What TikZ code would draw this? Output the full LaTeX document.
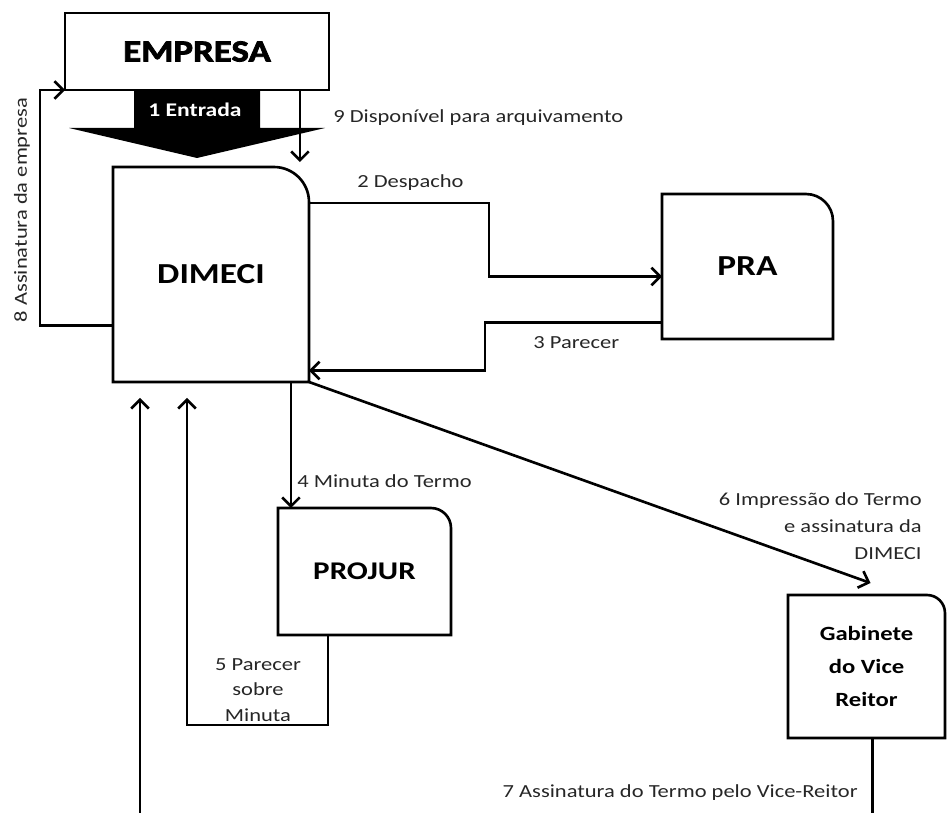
\documentclass[tikz,border=0pt]{standalone}
\usepackage{fontspec}
\setmainfont{Carlito}[FakeStretch=1.22]
\newfontfamily\pesada{Carlito}[FakeStretch=1.2,FakeBold=2.5]
\usetikzlibrary{arrows.meta,positioning,calc}
\tikzset{
  caixa/.style={draw=none,outer sep=0pt,inner sep=0pt,align=center,
                font=\bfseries\fontsize{16.5}{20}\selectfont},
  linha/.style={draw=black,line width=1.5pt},
  flecha/.style={linha,-{Straight Barb[length=5pt,width=10pt]}},
  et/.style={font=\fontsize{10.5}{14.5}\selectfont,inner sep=0pt,text=black!85},
}
% contorno com o canto superior direito arredondado
\newcommand{\contorno}[2]{%
  \draw[linha] (#1.south west) -- (#1.north west) -- ($(#1.north east)+(-#2,0)$)
    arc[start angle=90,end angle=0,radius=#2] -- (#1.south east) -- cycle;}

\begin{document}
\begin{tikzpicture}[x=0.02cm,y=-0.02cm]
\useasboundingbox (0,0) rectangle (947,813);
\clip (0,0) rectangle (947,813);

% ---------------- caixas ----------------
\node[caixa,draw,linha,minimum width=5.28cm,minimum height=1.54cm] (emp) at (197,51.5)
  {\pesada\fontsize{17.5}{20}\selectfont EMPRESA};
\node[caixa,minimum width=3.92cm,minimum height=4.3cm] (dimeci) at (211,274.5) {DIMECI};
\node[caixa,minimum width=3.42cm,minimum height=2.9cm] (pra) at (747.5,266.5) {PRA};
\node[caixa,minimum width=3.46cm,minimum height=2.54cm,font=\bfseries\fontsize{14.5}{18}\selectfont]
  (projur) at (364.5,571.5) {PROJUR};
\node[caixa,minimum width=3.14cm,minimum height=2.86cm,font=\bfseries\fontsize{11.5}{19}\selectfont]
  (gab) at (866.5,666.5) {Gabinete\\do Vice\\Reitor};

\contorno{dimeci}{0.7cm}
\contorno{pra}{0.54cm}
\contorno{projur}{0.4cm}
\contorno{gab}{0.36cm}

% ---------------- 1 entrada ----------------
\fill[black] ($(emp.south)+(-63,0)$) -- ++(0,38) -- ++(-65,0) -- ++(128,30)
  -- ++(128,-30) -- ++(-65,0) -- ++(0,-38) -- cycle;
\node[font=\bfseries\fontsize{11}{13}\selectfont,text=white] (l1) at (195,110) {1 Entrada};

% ---------------- fluxos ----------------
\coordinate (s9) at ($(emp.south east)+(-29,0)$);
\coordinate (s4) at ($(dimeci.south east)+(-18,0)$);
\draw[flecha,shorten >=1mm] (s9) -- (s9 |- dimeci.north);
\draw[flecha] ($(dimeci.north east)+(0,36)$) -| ($(pra.west)+(-173,10)$) -- ($(pra.west)+(0,10)$);
\draw[flecha] ($(pra.west)+(0,56)$) -| ($(dimeci.east)+(176,96)$) -- ($(dimeci.east)+(0,96)$);
\draw[flecha] (s4) -- (s4 |- projur.north);
\draw[flecha,shorten >=3.2mm] ($(projur.south west)+(50,0)$) -- ++(0,90)
  -| ($(dimeci.south west)+(74,0)$);
\draw[flecha] (dimeci.south east) -- ($(gab.north)+(4,-12)$);
\draw[flecha,shorten >=3.2mm] ($(gab.south)+(6,0)$) -- ++(0,100)
  -| ($(dimeci.south west)+(27,0)$);
\draw[flecha] ($(dimeci.west)+(0,51)$) -| ($(emp.south west)+(-25,0)$) -- (emp.south west);

% ---------------- rotulos ----------------
\node[et,anchor=west] (l9) at (333,118) {9 Disponível para arquivamento};
\node[et,anchor=west] (l2) at (357,183) {2 Despacho};
\node[et,anchor=west] (l3) at (533,343) {3 Parecer};
\node[et,anchor=west] (l4) at (297,481) {4 Minuta do Termo};
\node[et,align=center] (l5) at (258,690) {5 Parecer\\sobre\\Minuta};
\node[et,align=right,anchor=north east,font=\fontsize{10.5}{15.5}\selectfont] (l6) at (922,492)
  {6 Impressão do Termo\\e assinatura da\\DIMECI};
\node[et,anchor=east] (l7) at (858,793) {7 Assinatura do Termo pelo Vice-Reitor};
\node[et,rotate=90] (l8) at (22,210) {8 Assinatura da empresa};

\end{tikzpicture}
\end{document}
